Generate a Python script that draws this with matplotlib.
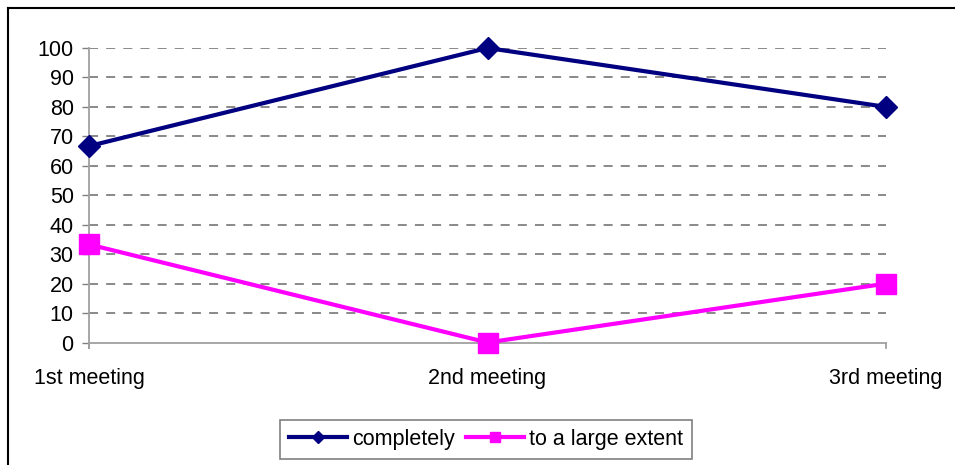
import matplotlib
matplotlib.use("Agg")
import matplotlib.pyplot as plt
from matplotlib.lines import Line2D

categories = ["1st meeting", "2nd meeting", "3rd meeting"]
completely = [66.7, 100, 80]
large_extent = [33.3, 0, 20]
yticks = list(range(0, 101, 10))

plt.rcParams['font.family'] = ['Liberation Sans', 'DejaVu Sans']
W, H = 955, 465
FS = 15.5
fig = plt.figure(figsize=(W / 100, H / 100), dpi=100)
ax = fig.add_axes([89 / W, 1 - 342.5 / H, (886 - 89) / W, (342.5 - 48) / H])

x = list(range(len(categories)))
ax.plot(x, completely, color='#000080', lw=3.0, marker='D', ms=11.5, mew=1,
        mec='#000080', mfc='#000080', label='completely', zorder=4, clip_on=False)
ax.plot(x, large_extent, color='#FF00FF', lw=3.0, marker='s', ms=14, mew=1,
        mec='#FF00FF', mfc='#FF00FF', label='to a large extent', zorder=4, clip_on=False)

ax.set_xlim(0, len(categories) - 1)
ax.set_ylim(0, 100)
ax.set_yticks(yticks)
ax.set_yticklabels([str(t) for t in yticks], fontsize=FS)
ax.set_xticks(x)
ax.set_xticklabels(categories, fontsize=FS)
ax.tick_params(axis='x', length=0, pad=18)
ax.tick_params(axis='y', length=5, color='#808080', width=1, pad=6)

for t in yticks[1:]:
    ax.axhline(t, color='#808080', lw=1.3, ls=(0, (5, 4.5)), zorder=1)

for s in ['top', 'right']:
    ax.spines[s].set_visible(False)
for s in ['left', 'bottom']:
    ax.spines[s].set_color('#A0A0A0')
    ax.spines[s].set_linewidth(1.3)
ax.spines['left'].set_bounds(-2, 100)
for xv in [0, len(categories) - 1]:
    ax.plot([xv, xv], [0, -2], color='#A0A0A0', lw=1.3, clip_on=False, zorder=2)

leg = fig.legend(loc='center', bbox_to_anchor=(486 / W, 1 - 439.5 / H), ncol=2,
                 fontsize=FS, frameon=True, fancybox=False, edgecolor='#606060',
                 handlelength=2.7, handletextpad=0.25, columnspacing=0.5,
                 borderpad=0.4, borderaxespad=0)
leg.get_frame().set_linewidth(1.2)
for h in leg.legend_handles:
    h.set_markersize(h.get_markersize() * 0.55)

fig.add_artist(Line2D([7.5 / W, 7.5 / W], [0, 1 - 8 / H], transform=fig.transFigure, color='black', lw=1.5))
fig.add_artist(Line2D([7.5 / W, 1], [1 - 8 / H, 1 - 8 / H], transform=fig.transFigure, color='black', lw=1.5))

fig.savefig('out.png', dpi=100)
